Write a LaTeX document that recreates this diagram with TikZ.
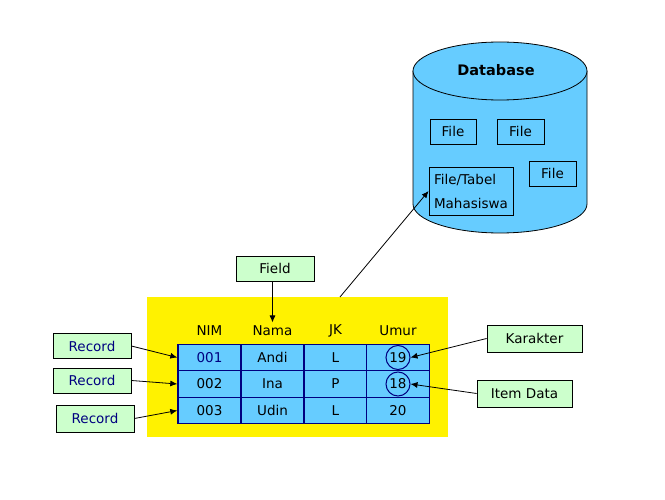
\documentclass[tikz,border=0pt]{standalone}
\usepackage{fontspec}
\usetikzlibrary{arrows.meta}
\setmainfont{DejaVu Sans}
\definecolor{skyfill}{HTML}{66CCFF}
\definecolor{greenbox}{HTML}{CCFFCC}
\definecolor{navy}{HTML}{000080}
\tikzset{
  label box/.style={draw=black, fill=greenbox, line width=0.8pt, minimum width=78pt, minimum height=25pt, inner sep=0pt},
  cell/.style={draw=navy, fill=skyfill, line width=1.4pt, minimum width=63pt, minimum height=26.5pt, inner sep=0pt},
  filebox/.style={draw=black, line width=0.8pt, minimum height=25pt, inner sep=3pt},
  ring/.style={circle, draw=navy, line width=1pt, minimum size=24pt, inner sep=0pt},
  pointer/.style={-{Latex[length=7pt,width=6pt]}, line width=0.8pt}
}
\begin{document}
\begin{tikzpicture}[x=1pt,y=-1pt,font=\fontsize{13.5}{16}\selectfont]
\useasboundingbox (0,0) rectangle (665,500);
% database cylinder
\filldraw[fill=skyfill, draw=black, line width=0.8pt]
(413,71) -- (413,204) arc[start angle=180, end angle=0, x radius=87, y radius=29] -- (587,71);
\filldraw[fill=skyfill, draw=black, line width=0.8pt] (500,71) ellipse[x radius=87, y radius=29];
\node[font=\fontsize{14.5}{16}\selectfont\bfseries] (db) at (496,70) {Database};
\node[filebox, minimum width=46pt] (file1) at (453,131.5) {File};
\node[filebox, minimum width=47pt] (file2) at (520.5,131.5) {File};
\node[filebox, minimum width=47pt] (file3) at (552.5,173.5) {File};
\node[filebox, minimum width=84pt, minimum height=48pt, align=left] (tabel) at (471,191) {File/Tabel\\[8pt]Mahasiswa};
% yellow area with the table
\node[fill=yellow, minimum width=301pt, minimum height=140pt, inner sep=0pt] (area) at (297.5,367) {};
\coordinate (tail) at (340,297);
\draw[pointer] (tail) -- (tabel.west);
\node (hNim) at (209.5,331) {NIM};
\node (hNama) at (272.5,331) {Nama};
\node (hJk) at (335.5,331) {JK};
\node (hUmur) at (398,331) {Umur};
\node[cell, text=navy] (c11) at (209.5,357.5) {001};
\node[cell] (c12) at (272.5,357.5) {Andi};
\node[cell] (c13) at (335.5,357.5) {L};
\node[cell] (c14) at (398,357.5) {19};
\node[cell] (c21) at (209.5,384) {002};
\node[cell] (c22) at (272.5,384) {Ina};
\node[cell] (c23) at (335.5,384) {P};
\node[cell] (c24) at (398,384) {18};
\node[cell] (c31) at (209.5,410.5) {003};
\node[cell] (c32) at (272.5,410.5) {Udin};
\node[cell] (c33) at (335.5,410.5) {L};
\node[cell] (c34) at (398,410.5) {20};
\node[ring] (r19) at (c14) {};
\node[ring] (r18) at (c24) {};
% labels
\node[label box] (field) at (275,268.5) {Field};
\node[label box, text=navy] (rec1) at (92,346) {Record};
\node[label box, text=navy] (rec2) at (92,380.5) {Record};
\node[label box, text=navy, minimum height=27pt] (rec3) at (95,418.5) {Record};
\node[label box, minimum width=95pt, minimum height=27pt] (karakter) at (534.5,338.5) {Karakter};
\node[label box, minimum width=95pt, minimum height=27pt] (item) at (524.5,393.5) {Item Data};
\draw[pointer] (field.south -| hNama) -- (hNama.north);
\draw[pointer] (rec1.east) -- (c11.west);
\draw[pointer] (rec2.east) -- (c21.west);
\draw[pointer] (rec3.east) -- (c31.west);
\draw[pointer] (karakter.west) -- (r19.east);
\draw[pointer] (item.west) -- (r18.east);
\end{tikzpicture}
\end{document}
